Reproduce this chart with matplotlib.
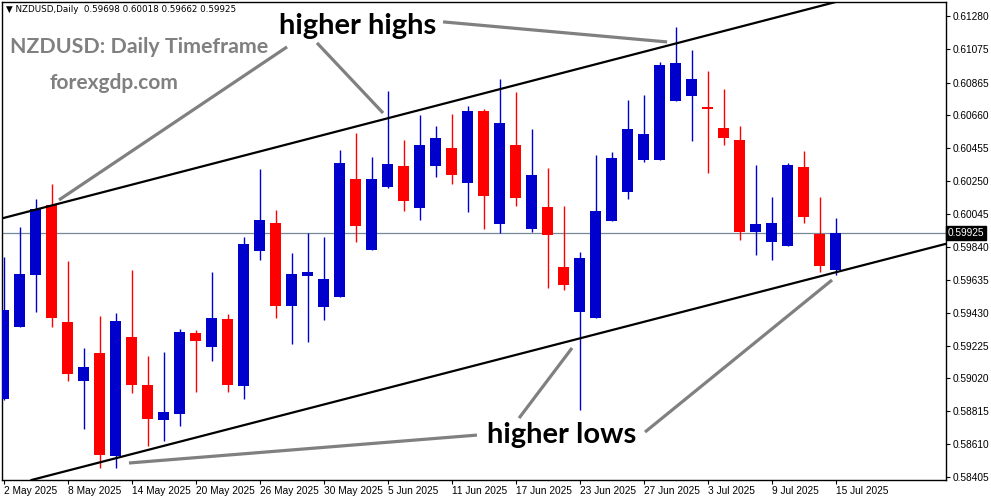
import numpy as np
import pandas as pd
import matplotlib
matplotlib.use("Agg")
import matplotlib.pyplot as plt
import matplotlib.transforms as mtransforms

# NZDUSD daily candles, 2 May 2025 -> 15 Jul 2025
dates = pd.bdate_range("2025-05-02", "2025-07-15")

opens = [0.58892, 0.59342, 0.59667, 0.60101, 0.59372, 0.59006, 0.59178, 0.58536, 0.59278, 0.58979,
         0.58763, 0.58800, 0.59303, 0.59218, 0.59391, 0.58975, 0.59816, 0.59989, 0.59473, 0.59659,
         0.59467, 0.59530, 0.60264, 0.59823, 0.60214, 0.60345, 0.60085, 0.60347, 0.60457, 0.60240,
         0.60688, 0.59985, 0.60476, 0.59954, 0.60091, 0.59715, 0.59436, 0.59399, 0.60004, 0.60184,
         0.60384, 0.60384, 0.60752, 0.60783, 0.60713, 0.60582, 0.60507, 0.59935, 0.59873, 0.59848,
         0.60338, 0.59922, 0.59698]
highs = [0.59777, 0.59964, 0.60139, 0.60232, 0.59752, 0.59210, 0.59411, 0.59426, 0.59696, 0.59160,
         0.59185, 0.59328, 0.59322, 0.59684, 0.59422, 0.59902, 0.60326, 0.60070, 0.59802, 0.59927,
         0.59902, 0.60444, 0.60550, 0.60401, 0.60812, 0.60507, 0.60663, 0.60594, 0.60669, 0.60719,
         0.60700, 0.60887, 0.60806, 0.60575, 0.60332, 0.60095, 0.59808, 0.60413, 0.60432, 0.60756,
         0.60787, 0.60993, 0.61211, 0.61068, 0.60937, 0.60825, 0.60594, 0.60351, 0.60151, 0.60363,
         0.60438, 0.60153, 0.60018]
lows = [0.58885, 0.59340, 0.59436, 0.59342, 0.59006, 0.58706, 0.58463, 0.58463, 0.58931, 0.58599,
        0.58632, 0.58723, 0.58937, 0.59129, 0.58937, 0.58894, 0.59760, 0.59399, 0.59236, 0.59249,
        0.59386, 0.59528, 0.59873, 0.59820, 0.60209, 0.60066, 0.60010, 0.60278, 0.60234, 0.60060,
        0.59954, 0.59929, 0.60097, 0.59935, 0.59586, 0.59573, 0.58825, 0.59399, 0.60004, 0.60141,
        0.60371, 0.60384, 0.60752, 0.60502, 0.60303, 0.60477, 0.59885, 0.59791, 0.59760, 0.59848,
        0.59991, 0.59685, 0.59662]
closes = [0.59447, 0.59671, 0.60076, 0.59399, 0.59049, 0.59091, 0.58542, 0.59378, 0.58981, 0.58769,
          0.58811, 0.59309, 0.59253, 0.59397, 0.58981, 0.59858, 0.60008, 0.59473, 0.59671, 0.59684,
          0.59640, 0.60363, 0.59972, 0.60264, 0.60357, 0.60128, 0.60476, 0.60519, 0.60290, 0.60688,
          0.60159, 0.60613, 0.60147, 0.60289, 0.59916, 0.59604, 0.59771, 0.60064, 0.60395, 0.60575,
          0.60544, 0.60974, 0.60987, 0.60887, 0.60702, 0.60521, 0.59935, 0.59983, 0.59989, 0.60351,
          0.60028, 0.59723, 0.59925]

price_ticks = [0.61280, 0.61075, 0.60865, 0.60660, 0.60455, 0.60250, 0.60045, 0.59840,
               0.59635, 0.59430, 0.59225, 0.59020, 0.58815, 0.58610, 0.58405]
last_price = 0.59925

# channel lines: two anchor points each (bar index, price)
upper_line = [(-0.094, 0.60018), (47.91, 0.61261)]
lower_line = [(4.156, 0.58449), (58.84, 0.59858)]

# pointer lines drawn from the labels (bar index, price)
highs_ptrs = [((17.72, 0.61087), (3.47, 0.60133)),
              ((19.59, 0.61112), (23.72, 0.60675)),
              ((27.47, 0.61243), (41.47, 0.61118))]
lows_ptrs = [((29.59, 0.58667), (7.84, 0.58493)),
             ((32.22, 0.58773), (35.53, 0.59210)),
             ((40.09, 0.58686), (51.78, 0.59634))]

o = np.array(opens)
h = np.array(highs)
l = np.array(lows)
c = np.array(closes)
x = np.arange(len(o))

BULL = "#0000CC"
BEAR = "#FF0000"
colors = np.where(c >= o, BULL, BEAR)

fig = plt.figure(figsize=(9.91, 5.01), dpi=100)
ax = fig.add_axes([2 / 991, 1 - 480 / 501, 944 / 991, 478 / 501])

# candles
ax.vlines(x, l, h, colors=colors, linewidth=1.0, zorder=3)
body_lo = np.minimum(o, c)
body_h = np.maximum(np.abs(c - o), 0.00008)
ax.bar(x, body_h, bottom=body_lo, width=0.69, color=colors, linewidth=0, zorder=4)

# current price line
ax.axhline(last_price, color="#778899", linewidth=0.9, zorder=2)

# channel
ax.axline(upper_line[0], upper_line[1], color="black", linewidth=1.6, zorder=5)
ax.axline(lower_line[0], lower_line[1], color="black", linewidth=1.6, zorder=5)

for (p0, p1) in highs_ptrs + lows_ptrs:
    ax.plot([p0[0], p1[0]], [p0[1], p1[1]], color="#808080", linewidth=2.3,
            solid_capstyle="butt", zorder=6)

ax.text(22.16, 0.61218, "higher highs", fontsize=21, fontweight="bold", family="Lato",
        ha="center", va="center", color="black", zorder=7)
ax.text(34.9, 0.58667, "higher lows", fontsize=21, fontweight="bold", family="Lato",
        ha="center", va="center", color="black", zorder=7)

ax.text(0.009, 0.906, "NZDUSD: Daily Timeframe", transform=ax.transAxes, fontsize=15.4,
        fontweight="bold", family="Lato", color="#808080", ha="left", va="center")
ax.text(0.050, 0.830, "forexgdp.com", transform=ax.transAxes, fontsize=15,
        fontweight="bold", family="Lato", color="#808080", ha="left", va="center")
ax.text(0.004, 0.984, "\u25bc NZDUSD,Daily  0.59698 0.60018 0.59662 0.59925",
        transform=ax.transAxes, fontsize=6.3, color="black", ha="left", va="center")

# axes
ax.set_xlim(-0.094, 58.9)
ax.set_ylim(0.58387, 0.61367)
ax.yaxis.tick_right()
ax.set_yticks(price_ticks)
ax.set_yticklabels([f"{p:.5f}" for p in price_ticks])
tick_idx = x[::4]
ax.set_xticks(tick_idx)
ax.set_xticklabels([f"{d.day} {d.strftime('%b %Y')}" for d in dates[::4]], ha="left")
ax.tick_params(axis="both", labelsize=7.3, length=3, width=0.8, pad=2, color="black")
ax.tick_params(axis="x", pad=1)
for lab in ax.get_xticklabels() + ax.get_yticklabels():
    lab.set_family("Liberation Sans")
for s in ax.spines.values():
    s.set_linewidth(1.0)
    s.set_color("black")

trans = mtransforms.blended_transform_factory(ax.transAxes, ax.transData)
ax.text(1.002, last_price, f"{last_price:.5f}", transform=trans, fontsize=7.3, color="white",
        family="Liberation Sans", ha="left", va="center",
        bbox=dict(boxstyle="square,pad=0.2", facecolor="black", edgecolor="black"), zorder=8,
        clip_on=False)

fig.savefig("out.png", dpi=100)
